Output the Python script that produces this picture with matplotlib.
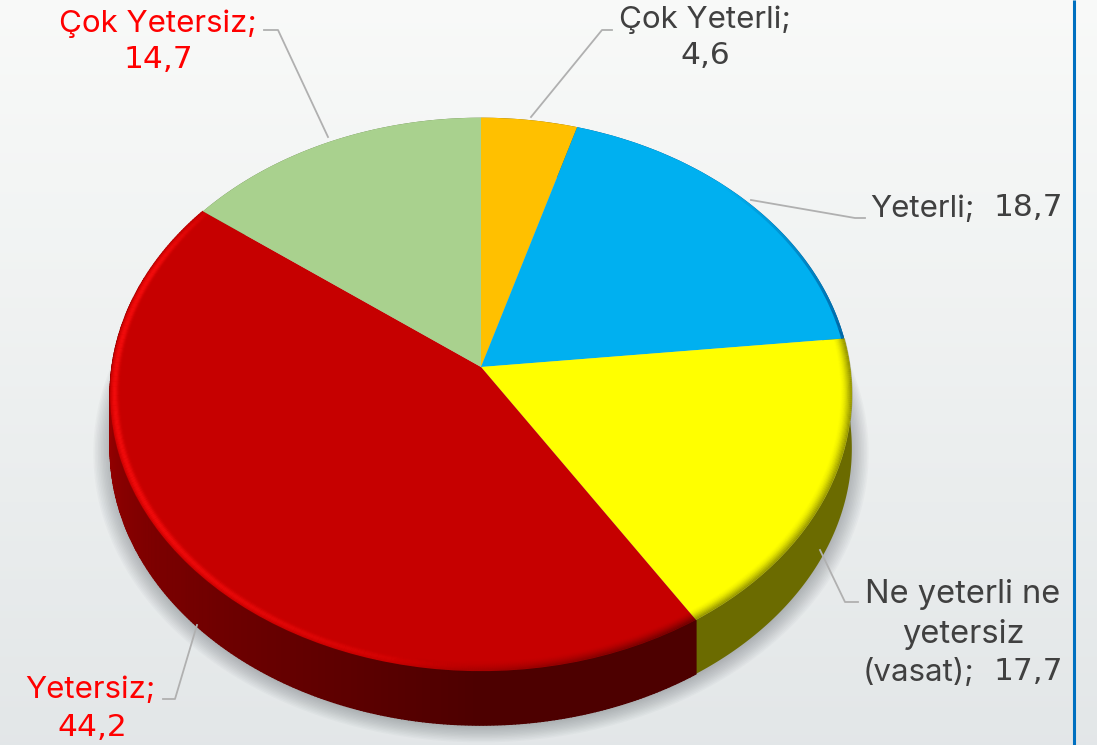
import numpy as np
import matplotlib
matplotlib.use('Agg')
import matplotlib.pyplot as plt
from matplotlib.collections import LineCollection
from matplotlib.transforms import Transform

# Data
categories = ['Çok Yeterli', 'Yeterli', 'Ne yeterli ne yetersiz (vasat)', 'Yetersiz', 'Çok Yetersiz']
values = [4.6, 18.7, 17.7, 44.2, 14.7]
top_colors = ['#FFC000', '#00B0F0', '#FFFF00', '#C60000', '#A9D18E']
side_colors = [(0.5, 0.38, 0.0), (0.0, 0.33, 0.55), (0.42, 0.42, 0.0), (0.44, 0.0, 0.0), (0.4, 0.5, 0.3)]

CX, CY = 481, 367
RX = 369
PERSP = 0.099
A = 274
DEPTH = 54


# unit circle -> tilted disc on the screen, apex stays at CX, CY
def project(u, v):
    d = 1 + PERSP * v
    return CX + RX * u / d, CY - A * v / d


class TiltTransform(Transform):
    input_dims = 2
    output_dims = 2

    def transform_non_affine(self, values):
        values = np.asarray(values, dtype=float)
        x, y = project(values[:, 0], values[:, 1])
        return np.column_stack([x, y])


# clockwise degrees from 12 o'clock
def rim(deg, r=1.0):
    t = np.radians(deg)
    return project(r * np.sin(t), r * np.cos(t))


def rim_line(ax, start, stop, r, color, lw, alpha_fn, z):
    deg = np.linspace(start, stop, 160)
    x, y = rim(deg, r)
    pts = np.column_stack([x, y])
    segs = np.stack([pts[:-1], pts[1:]], axis=1)
    cols = [(*color, alpha_fn((s - start) / (stop - start))) for s in deg[:-1]]
    ax.add_collection(LineCollection(segs, colors=cols, linewidths=lw, capstyle='butt', zorder=z))


fig = plt.figure(figsize=(10.97, 7.45), dpi=100)
ax = fig.add_axes([0, 0, 1, 1])

# background
grad = np.linspace(0, 1, 256).reshape(-1, 1, 1)
bg = (1 - grad) * np.array([0.975, 0.98, 0.975]) + grad * np.array([0.89, 0.905, 0.91])
ax.imshow(bg, extent=(0, 1097, 745, 0), aspect='auto', zorder=0)

# soft shadow
all_deg = np.linspace(0, 360, 361)
for s in np.linspace(1.045, 1.0, 12):
    x, y = rim(all_deg, s)
    ax.fill(x, y + DEPTH + 2, color='#555a60', alpha=0.035, lw=0, zorder=1)

# side wall, a solid band per slice with shading on top so no seams show
edges = np.cumsum([0] + values) / sum(values) * 360
for i in range(len(values)):
    deg = np.linspace(edges[i], edges[i + 1], int(edges[i + 1] - edges[i]) * 2 + 2)
    x, y = rim(deg)
    ax.fill(np.r_[x, x[::-1]], np.r_[y, y[::-1] + DEPTH], color=side_colors[i], lw=0, zorder=2)
    if categories[i] == 'Yetersiz':
        # brighter toward the back left
        for a0, a1 in zip(deg[:-1], deg[1:]):
            p = (a0 - edges[i]) / (edges[i + 1] - edges[i])
            if p < 0.2:
                c = (0.30, 0.0, 0.0)
            else:
                c = (0.30 + 0.42 * (p - 0.2) / 0.8, 0.0, 0.0)
            x0, y0 = rim(a0)
            x1, y1 = rim(a1)
            ax.fill([x0, x1, x1, x0], [y0, y1, y1 + DEPTH, y0 + DEPTH], color=c, lw=1.0, zorder=2)

# top face
wedges, _ = ax.pie(values, colors=top_colors, startangle=90, counterclock=False,
                   frame=True, wedgeprops={'linewidth': 0})
tilt = TiltTransform()
for w in wedges:
    w.set_transform(tilt + ax.transData)
    w.set_zorder(3)


# bevel along the rim
def glow(p):
    # strong on the left, gone toward the front right
    return np.clip((p - 0.2) / 0.35, 0, 1) * np.clip((1.02 - p) / 0.12, 0, 1)


for r in np.arange(0.972, 0.999, 0.003):
    # peak a little inside the edge for the red, straight fall-off for the dark ones
    al_red = 0.55 * np.exp(-((r - 0.988) / 0.008) ** 2)
    al_dark = 0.5 * ((r - 0.968) / 0.031) ** 2
    rim_line(ax, edges[3], edges[4], r, (1.0, 0.06, 0.06), 1.5, lambda p: al_red * glow(p), 4)
    rim_line(ax, edges[2], edges[3], r, (0.42, 0.42, 0.0), 1.5, lambda p: al_dark, 4)
    rim_line(ax, edges[3], edges[3] + 45, r, (0.3, 0.0, 0.0), 1.5, lambda p: al_dark * (1 - p), 4)
rim_line(ax, 45, edges[2], 0.996, (0.0, 0.3, 0.55), 2.2, lambda p: p * 0.8, 4)

# blue rule on the right
ax.plot([1073.5, 1073.5], [0, 745], color='#0070C0', lw=2.2, zorder=5, solid_capstyle='butt')

# leader lines
leaders = [
    ([264, 278, 328], [30, 30, 137]),
    ([531, 602, 612], [117, 30, 30]),
    ([751, 855, 865], [200, 218, 218]),
    ([820, 845, 858], [550, 602, 602]),
    ([197, 175, 163], [625, 699, 699]),
]
for lx, ly in leaders:
    ax.plot(lx, ly, color='#B0B0B0', lw=1.3, zorder=5)

# labels
dark = '#404040'
red = '#FF0000'
font = dict(family='Inter', fontsize=22.5, ha='center', va='center', zorder=6)
nums = dict(family='DejaVu Sans', fontsize=22.5, ha='center', va='center', zorder=6)
ax.text(158, 24, 'Çok Yetersiz;', color=red, **font)
ax.text(158, 60, '14,7', color=red, **nums)
ax.text(705, 20, 'Çok Yeterli;', color=dark, **font)
ax.text(705, 56, '4,6', color=dark, **nums)
ax.text(870, 209, 'Yeterli;', color=dark, **{**font, 'ha': 'left'})
ax.text(1063, 208, '18,7', color=dark, **{**nums, 'ha': 'right'})
ax.text(963, 594, 'Ne yeterli ne', color=dark, **{**font, 'fontsize': 23.5})
ax.text(963, 634, 'yetersiz', color=dark, **{**font, 'fontsize': 23.5})
ax.text(863, 672, '(vasat);', color=dark, **{**font, 'ha': 'left'})
ax.text(1063, 671, '17,7', color=dark, **{**nums, 'ha': 'right'})
ax.text(90, 690, 'Yetersiz;', color=red, **font)
ax.text(92, 728, '44,2', color=red, **nums)

ax.set_xlim(0, 1097)
ax.set_ylim(745, 0)
ax.set_aspect('auto')
ax.axis('off')

fig.savefig('out.png', dpi=100)
